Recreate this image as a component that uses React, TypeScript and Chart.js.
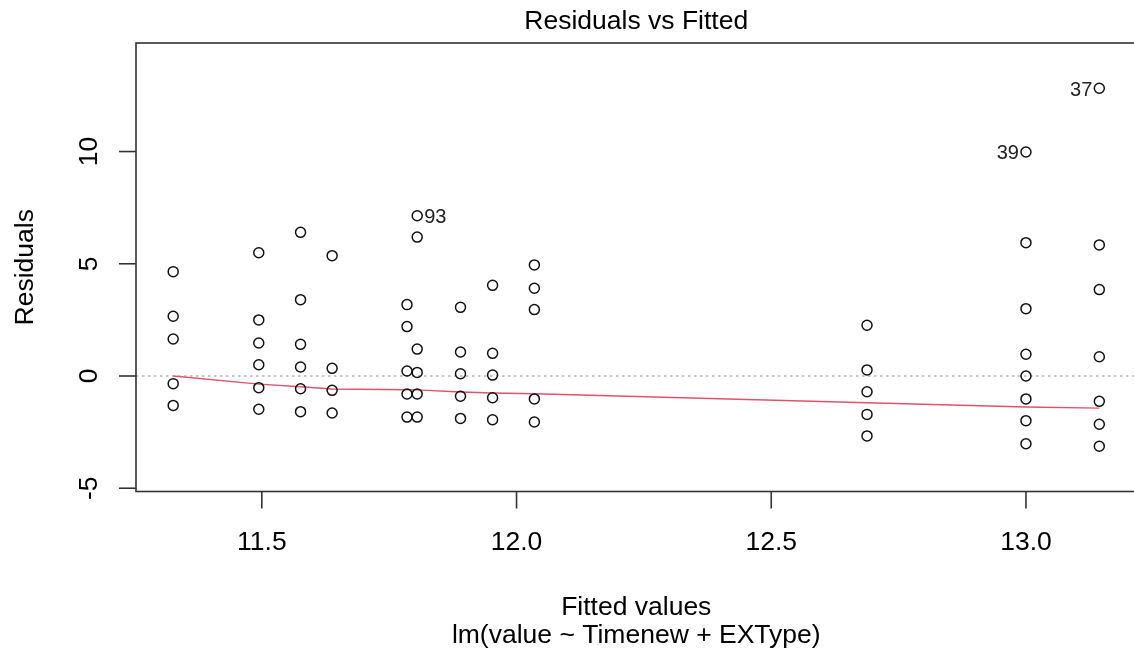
import React, { useEffect, useRef } from "react";
import { Chart, registerables } from "chart.js";

Chart.register(...registerables);

// Fitted values (x) and residuals (y), one entry per observation
const fittedValues = [
  11.326, 11.326, 11.326, 11.326, 11.326,
  11.494, 11.494, 11.494, 11.494, 11.494, 11.494,
  11.576, 11.576, 11.576, 11.576, 11.576, 11.576,
  11.638, 11.638, 11.638, 11.638,
  11.785, 11.785, 11.785, 11.785, 11.785,
  11.805, 11.805, 11.805, 11.805, 11.805, 11.805,
  11.89, 11.89, 11.89, 11.89, 11.89,
  11.953, 11.953, 11.953, 11.953, 11.953,
  12.035, 12.035, 12.035, 12.035, 12.035,
  12.688, 12.688, 12.688, 12.688, 12.688,
  13.0, 13.0, 13.0, 13.0, 13.0, 13.0, 13.0, 13.0,
  13.144, 13.144, 13.144, 13.144, 13.144, 13.144, 13.144,
];
const residualValues = [
  4.65, 2.66, 1.65, -0.34, -1.31,
  5.49, 2.5, 1.47, 0.5, -0.52, -1.48,
  6.4, 3.4, 1.41, 0.4, -0.57, -1.59,
  5.36, 0.34, -0.64, -1.65,
  3.18, 2.2, 0.22, -0.8, -1.83,
  7.14, 6.19, 1.2, 0.16, -0.8, -1.83,
  3.06, 1.07, 0.1, -0.9, -1.89,
  4.04, 1.01, 0.04, -0.97, -1.95,
  4.95, 3.91, 2.96, -1.02, -2.05,
  2.26, 0.27, -0.7, -1.71, -2.67,
  9.98, 5.94, 3.0, 0.97, 0.0, -1.02, -1.99, -3.02,
  12.82, 5.84, 3.85, 0.86, -1.13, -2.15, -3.13,
];

// Lowess smoother
const smoothX = [11.326, 11.494, 11.576, 11.638, 11.785, 11.805, 11.89, 11.953, 12.035, 12.688, 13.0, 13.144];
const smoothY = [0.0, -0.36, -0.48, -0.58, -0.61, -0.62, -0.71, -0.76, -0.79, -1.19, -1.38, -1.43];

// Labelled observations
const idLabels = ["93", "39", "37"];
const idX = [11.805, 13.0, 13.144];
const idY = [7.14, 9.98, 12.82];

// Axis ticks
const xTicks = [11.5, 12.0, 12.5, 13.0];
const xTickLabels = ["11.5", "12.0", "12.5", "13.0"];
const yTicks = [-5, 0, 5, 10];
const yTickLabels = ["-5", "0", "5", "10"];

// Axis limits
const xLimits = [11.253, 13.217];
const yLimits = [-5.146, 14.836];

const titleText = "Residuals vs Fitted";
const xTitle = "Fitted values";
const subTitle = "lm(value ~ Timenew + EXType)";
const yTitle = "Residuals";

const FONT = '"Liberation Sans", Arial, sans-serif';

const rPlotPlugin = {
  id: "rPlot",
  beforeDatasetsDraw(chart: any) {
    const { ctx, chartArea, scales } = chart;
    const y0 = scales.y.getPixelForValue(0);
    ctx.save();
    ctx.beginPath();
    ctx.rect(chartArea.left, chartArea.top, chartArea.right - chartArea.left, chartArea.bottom - chartArea.top);
    ctx.clip();
    ctx.strokeStyle = "#B4B4B4";
    ctx.lineWidth = 1.3;
    ctx.setLineDash([2.5, 3.5]);
    ctx.beginPath();
    ctx.moveTo(chartArea.left, y0);
    ctx.lineTo(chartArea.right, y0);
    ctx.stroke();
    ctx.restore();
  },
  afterDraw(chart: any) {
    const { ctx, scales } = chart;
    const xs = scales.x;
    const ys = scales.y;
    const left = xs.getPixelForValue(xLimits[0]);
    const right = xs.getPixelForValue(xLimits[1]);
    const top = ys.getPixelForValue(yLimits[1]);
    const bottom = ys.getPixelForValue(yLimits[0]);
    const cx = (left + right) / 2;
    const cy = (top + bottom) / 2;

    ctx.save();
    // box
    ctx.strokeStyle = "#333";
    ctx.lineWidth = 1.6;
    ctx.strokeRect(left, top, right - left, bottom - top);

    // x ticks
    ctx.fillStyle = "#000";
    ctx.font = `26.5px ${FONT}`;
    ctx.textAlign = "center";
    ctx.textBaseline = "alphabetic";
    xTicks.forEach((v, i) => {
      const px = xs.getPixelForValue(v);
      ctx.beginPath();
      ctx.moveTo(px, bottom);
      ctx.lineTo(px, bottom + 17);
      ctx.stroke();
      ctx.fillText(xTickLabels[i], px, bottom + 58.5);
    });

    // y ticks
    yTicks.forEach((v, i) => {
      const py = ys.getPixelForValue(v);
      ctx.beginPath();
      ctx.moveTo(left, py);
      ctx.lineTo(left - 17, py);
      ctx.stroke();
      ctx.save();
      ctx.translate(left - 39, py);
      ctx.rotate(-Math.PI / 2);
      ctx.fillText(yTickLabels[i], 0, 0);
      ctx.restore();
    });

    // titles
    ctx.fillText(titleText, cx, 28.5);
    ctx.fillText(xTitle, cx, bottom + 123.5);
    ctx.fillText(subTitle, cx, bottom + 151.5);
    ctx.save();
    ctx.translate(33, cy);
    ctx.rotate(-Math.PI / 2);
    ctx.fillText(yTitle, 0, 0);
    ctx.restore();

    // id labels
    ctx.font = `20px ${FONT}`;
    ctx.fillStyle = "#222";
    const midX = (xLimits[0] + xLimits[1]) / 2;
    idLabels.forEach((lab, i) => {
      const px = xs.getPixelForValue(idX[i]);
      const py = ys.getPixelForValue(idY[i]);
      if (idX[i] < midX) {
        ctx.textAlign = "left";
        ctx.fillText(lab, px + 7, py + 7.5);
      } else {
        ctx.textAlign = "right";
        ctx.fillText(lab, px - 7, py + 7.5);
      }
    });
    ctx.restore();
  },
};

export default function App() {
  const canvasRef = useRef<HTMLCanvasElement | null>(null);

  useEffect(() => {
    if (!canvasRef.current) return;
    const points = fittedValues.map((x, i) => ({ x, y: residualValues[i] }));
    const smooth = smoothX.map((x, i) => ({ x, y: smoothY[i] }));
    const chart = new Chart(canvasRef.current, {
      type: "scatter",
      data: {
        datasets: [
          {
            label: "residuals",
            data: points,
            showLine: false,
            pointStyle: "circle",
            pointRadius: 5,
            pointBorderWidth: 1.5,
            pointBackgroundColor: "rgba(0,0,0,0)",
            pointBorderColor: "#111",
            borderColor: "#111",
            backgroundColor: "rgba(0,0,0,0)",
            order: 1,
          },
          {
            label: "smooth",
            data: smooth,
            showLine: true,
            pointRadius: 0,
            borderColor: "#DF536B",
            borderWidth: 1.4,
            fill: false,
            tension: 0,
            order: 2,
          },
        ],
      },
      options: {
        responsive: false,
        animation: false,
        devicePixelRatio: 1,
        layout: { autoPadding: false, padding: { left: 136, right: 0.5, top: 43, bottom: 166.5 } },
        plugins: {
          legend: { display: false },
          tooltip: { enabled: false },
          title: { display: false },
        },
        events: [],
        scales: {
          x: { type: "linear", min: xLimits[0], max: xLimits[1], display: false },
          y: { type: "linear", min: yLimits[0], max: yLimits[1], display: false },
        },
      },
      plugins: [rPlotPlugin],
    });
    return () => chart.destroy();
  }, []);

  return (
    <div
      style={{
        position: "absolute",
        left: 0,
        top: 0,
        width: 1134,
        height: 658,
        overflow: "hidden",
        background: "#fff",
      }}
    >
      <canvas ref={canvasRef} width={1137} height={658} style={{ width: 1137, height: 658, display: "block" }} />
    </div>
  );
}
